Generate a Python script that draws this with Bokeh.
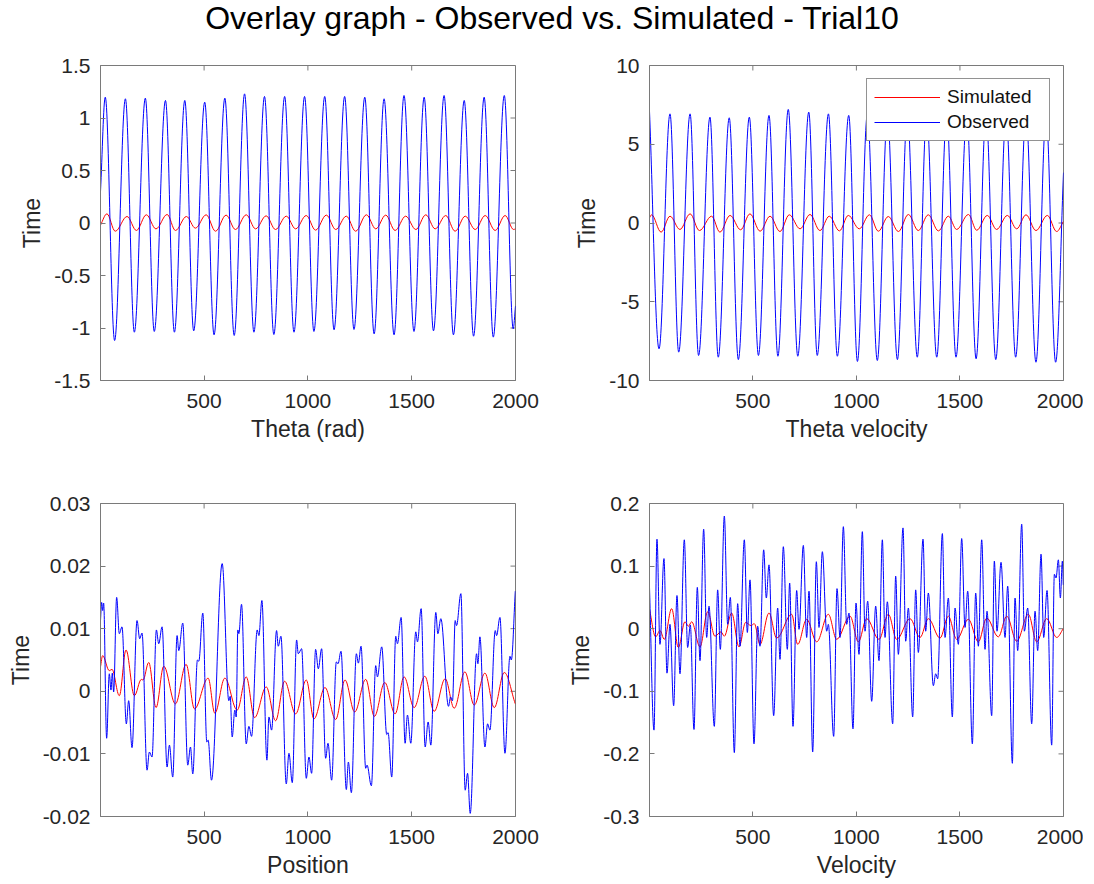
import numpy as np
from bokeh.plotting import figure
from bokeh.models import (Range1d, FixedTicker, CustomJSTickFormatter,
                          Legend, LegendItem, Div)
from bokeh.layouts import column, row
from bokeh.embed import file_html
from bokeh.resources import INLINE

TITLE = "Overlay graph - Observed vs. Simulated - Trial10"
Y_LABEL = "Time"
X_LABELS = ["Theta (rad)", "Theta velocity", "Position", "Velocity"]
LEGEND_LABELS = ["Simulated", "Observed"]

X_MIN, X_MAX = 1, 2000
x_ticks = [500, 1000, 1500, 2000]
tl_yticks = [-1.5, -1, -0.5, 0, 0.5, 1, 1.5]
tr_yticks = [-10, -5, 0, 5, 10]
bl_yticks = [-0.02, -0.01, 0, 0.01, 0.02, 0.03]
br_yticks = [-0.3, -0.2, -0.1, 0, 0.1, 0.2]

# ---- Theta (top-left): local extrema ----
tl_obs_x = [1, 24, 69, 121, 164, 217, 260, 314, 357, 407, 450, 503, 548, 600, 645, 695, 740,
            791, 836, 888, 933, 984, 1029, 1081, 1126, 1177, 1222, 1274, 1319, 1367, 1415,
            1463, 1511, 1560, 1605, 1656, 1701, 1753, 1798, 1849, 1893, 1946, 1989, 2000]
tl_obs_y = [0.30, 1.198, -1.119, 1.183, -1.040, 1.189, -1.033, 1.167, -1.040, 1.167, -1.027,
            1.151, -1.065, 1.189, -1.071, 1.230, -1.040, 1.205, -1.062, 1.205, -1.040, 1.205,
            -1.033, 1.205, -1.017, 1.205, -1.014, 1.198, -1.056, 1.183, -1.065, 1.214, -1.033,
            1.198, -1.027, 1.214, -1.065, 1.167, -1.078, 1.198, -1.087, 1.214, -1.008, -0.79]
tl_sim_x = [1, 32, 72, 129, 174, 222, 268, 322, 362, 415, 458, 510, 555, 606, 651, 703, 748,
            799, 844, 896, 941, 992, 1037, 1089, 1134, 1185, 1230, 1282, 1327, 1375, 1420,
            1471, 1520, 1568, 1613, 1664, 1709, 1758, 1806, 1854, 1902, 1950, 1991, 2000]
tl_sim_y = [-0.02, 0.087, -0.078, 0.062, -0.071, 0.078, -0.056, 0.081, -0.071, 0.062, -0.049,
            0.078, -0.078, 0.075, -0.062, 0.078, -0.056, 0.068, -0.062, 0.065, -0.056, 0.071,
            -0.068, 0.075, -0.062, 0.065, -0.078, 0.078, -0.056, 0.075, -0.071, 0.065, -0.062,
            0.078, -0.056, 0.071, -0.078, 0.065, -0.062, 0.071, -0.071, 0.071, -0.062, -0.055]

# ---- Theta velocity (top-right) ----
tr_obs_x = [1, 47, 100, 142, 197, 238, 293, 333, 386, 430, 483, 527, 578, 621, 671, 717, 770,
            811, 865, 908, 963, 1005, 1053, 1101, 1150, 1198, 1246, 1294, 1339, 1388, 1436,
            1481, 1533, 1578, 1626, 1673, 1723, 1769, 1819, 1867, 1916, 1962, 2000]
tr_obs_y = [7.1, -7.99, 6.93, -8.20, 6.93, -8.41, 6.72, -8.52, 6.68, -8.67, 6.72, -8.41, 6.83,
            -8.46, 7.21, -8.46, 7.04, -8.41, 6.93, -8.46, 6.83, -8.79, 6.9, -8.73, 6.8, -8.67,
            6.9, -8.52, 6.85, -8.52, 6.9, -8.52, 6.8, -8.62, 6.9, -8.67, 6.85, -8.52, 6.9,
            -8.84, 6.8, -8.84, 3.2]
tr_sim_x = [1, 11, 57, 100, 148, 197, 242, 301, 341, 390, 441, 486, 535, 583, 631, 676, 728,
            776, 824, 869, 918, 961, 1014, 1063, 1106, 1154, 1203, 1251, 1299, 1347, 1396,
            1444, 1484, 1541, 1581, 1632, 1677, 1729, 1774, 1819, 1867, 1922, 1967, 2000]
tr_sim_y = [0.33, 0.52, -0.58, 0.43, -0.41, 0.58, -0.48, 0.43, -0.58, 0.48, -0.43, 0.58, -0.52,
            0.43, -0.54, 0.52, -0.37, 0.54, -0.48, 0.43, -0.50, 0.48, -0.37, 0.52, -0.52, 0.41,
            -0.54, 0.54, -0.48, 0.52, -0.50, 0.43, -0.41, 0.54, -0.46, 0.48, -0.41, 0.48,
            -0.37, 0.52, -0.48, 0.48, -0.54, 0.10]

# ---- Position (bottom-left) ----
bl_obs_x = [1, 6.5, 11.3, 16.1, 30.6, 43.4, 51.5, 57.9, 64.4, 78.8, 91.7, 104.6, 125.5, 136.7,
            152.8, 177.0, 189.8, 201.1, 225.2, 236.4, 249.3, 270.2, 281.5, 297.6, 321.7, 332.9,
            349.0, 370.0, 378.0, 397.3, 421.4, 434.3, 445.5, 468.0, 474.5, 493.8, 513.1, 519.5,
            535.6, 587.1, 619.2, 625.7, 635.3, 648.2, 654.6, 662.6, 667.5, 680.3, 702.9, 715.7,
            728.6, 755.9, 764.0, 778.4, 802.6, 812.2, 825.1, 849.2, 857.2, 870.1, 895.8, 908.7,
            924.8, 945.7, 953.7, 969.8, 992.3, 1005.1, 1017.9, 1037.2, 1050.1, 1066.2, 1085.5,
            1096.8, 1114.4, 1137.0, 1145.0, 1159.5, 1185.2, 1194.9, 1209.3, 1233.5, 1243.1,
            1256.0, 1278.5, 1284.9, 1305.8, 1326.7, 1334.8, 1355.7, 1379.8, 1386.2, 1403.9,
            1423.2, 1431.3, 1449.0, 1468.3, 1479.5, 1495.6, 1519.7, 1527.8, 1545.5, 1564.8,
            1579.2, 1592.1, 1616.2, 1625.9, 1640.4, 1677.4, 1687.0, 1696.7, 1709.5, 1716.0,
            1736.9, 1757.8, 1769.0, 1781.9, 1812.5, 1818.9, 1828.5, 1852.7, 1865.5, 1876.8,
            1902.5, 1909.0, 1925.0, 1949.2, 1973.3, 1979.7, 1999]
bl_obs_y = [0.0113, 0.0142, 0.0129, 0.0141, -0.0075, 0.0028, 0.0002, 0.0029, -0.0001, 0.0150,
            0.0092, 0.0103, -0.0052, -0.0015, -0.0090, 0.0113, 0.0084, 0.0093, -0.0126, -0.0097,
            -0.0105, 0.0098, 0.0076, 0.0103, -0.0121, -0.0086, -0.0137, 0.0089, 0.0065, 0.0109,
            -0.0118, -0.0089, -0.0132, 0.0050, 0.0048, 0.0125, -0.0081, -0.0078, -0.0142, 0.0204,
            -0.0015, -0.0008, -0.0073, -0.0030, -0.0041, 0.0098, 0.0092, 0.0139, -0.0084, -0.0056,
            -0.0072, 0.0098, 0.0089, 0.0145, -0.0110, -0.0041, -0.0062, 0.0097, 0.0072, 0.0088,
            -0.0148, -0.0099, -0.0146, 0.0082, 0.0060, 0.0068, -0.0139, -0.0105, -0.0131, 0.0067,
            0.0036, 0.0068, -0.0107, -0.0083, -0.0142, 0.0047, 0.0044, 0.0064, -0.0157, -0.0113,
            -0.0162, 0.0060, 0.0045, 0.0072, -0.0123, -0.0118, -0.0151, 0.0041, 0.0023, 0.0071,
            -0.0069, -0.0066, -0.0137, 0.0088, 0.0076, 0.0118, -0.0083, -0.0038, -0.0083, 0.0095,
            0.0079, 0.0132, -0.0089, -0.0049, -0.0086, 0.0126, 0.0092, 0.0116, -0.0024, -0.0009,
            -0.0015, 0.0113, 0.0105, 0.0156, -0.0158, -0.0131, -0.0195, 0.0060, 0.0044, 0.0087,
            -0.0089, -0.0052, -0.0062, 0.0097, 0.0089, 0.0118, -0.0099, 0.0056, 0.0050, 0.0160]
bl_sim_x = [1, 11.3, 43.4, 56.3, 91.7, 123.9, 164.1, 197.8, 205.9, 233.2, 268.6, 305.6, 361.9,
            413.4, 453.6, 519.5, 551.7, 599.9, 659.4, 702.9, 743.1, 799.4, 844.4, 887.8, 940.9,
            992.3, 1029.2, 1082.3, 1133.7, 1178.8, 1225.4, 1278.5, 1320.3, 1370.2, 1420.0,
            1463.4, 1511.7, 1563.2, 1608.2, 1661.3, 1704.7, 1756.2, 1801.2, 1852.7, 1897.7,
            1945.9, 1999]
bl_sim_y = [0.0039, 0.0057, 0.0033, 0.0035, -0.0007, 0.0066, -0.0007, 0.0019, 0.0018, 0.0046,
            -0.0026, 0.0040, -0.0020, 0.0043, -0.0028, 0.0021, -0.0035, 0.0021, -0.0030, 0.0023,
            -0.0042, 0.0007, -0.0047, 0.0016, -0.0036, 0.0018, -0.0044, 0.0006, -0.0045, 0.0018,
            -0.0033, 0.0019, -0.0040, 0.0014, -0.0036, 0.0023, -0.0026, 0.0024, -0.0032, 0.0020,
            -0.0027, 0.0031, -0.0022, 0.0029, -0.0026, 0.0030, -0.0020]

# ---- Velocity (bottom-right) ----
br_obs_x = [1, 22.7, 37.1, 51.6, 70.9, 85.4, 99.9, 117.6, 133.7, 148.2, 169.1, 185.2, 198.1,
            215.8, 231.9, 244.8, 262.5, 277.0, 288.3, 314.0, 330.1, 343.0, 362.3, 378.4, 391.3,
            410.6, 426.7, 438.0, 458.9, 473.4, 486.3, 505.6, 523.3, 534.5, 552.3, 565.1, 578.0,
            600.5, 619.9, 631.1, 647.2, 666.5, 677.8, 693.9, 711.6, 722.9, 743.8, 759.9, 771.2,
            788.9, 806.6, 819.5, 835.6, 856.5, 864.5, 890.3, 906.4, 920.9, 937.0, 953.1, 964.3,
            983.6, 998.1, 1012.6, 1028.7, 1041.6, 1054.5, 1073.8, 1093.1, 1109.2, 1125.3, 1138.2,
            1149.4, 1175.2, 1189.7, 1202.6, 1225.1, 1238.0, 1250.9, 1271.8, 1286.3, 1299.1,
            1321.7, 1334.6, 1347.4, 1371.6, 1382.9, 1392.5, 1415.1, 1427.9, 1444.0, 1463.3,
            1476.2, 1492.3, 1508.4, 1524.5, 1537.4, 1559.9, 1576.0, 1588.9, 1605.0, 1621.1,
            1630.7, 1653.3, 1666.1, 1679.0, 1698.3, 1717.7, 1730.5, 1753.1, 1766.0, 1778.8,
            1798.2, 1811.0, 1827.1, 1846.4, 1862.5, 1875.4, 1891.5, 1904.4, 1920.5, 1943.0,
            1955.9, 1963.9, 1975.2, 1984.9, 1994.5, 1999]
br_obs_y = [0.066, -0.162, 0.143, -0.025, 0.112, -0.071, 0.007, -0.123, 0.053, -0.072, 0.142,
            -0.030, 0.006, -0.161, 0.066, -0.051, 0.159, -0.014, 0.036, -0.156, 0.062, -0.033,
            0.180, 0.007, 0.050, -0.198, 0.040, -0.028, 0.142, -0.006, 0.078, -0.184, 0.004,
            -0.028, 0.126, 0.049, 0.102, -0.139, 0.033, -0.049, 0.131, -0.033, 0.073, -0.156,
            0.061, -0.001, 0.133, -0.014, 0.060, -0.197, 0.107, 0.002, 0.123, -0.004, 0.007,
            -0.172, 0.064, -0.014, 0.163, 0.007, 0.025, -0.160, 0.041, -0.041, 0.155, -0.004,
            0.044, -0.116, 0.036, -0.051, 0.142, -0.014, 0.043, -0.152, 0.084, -0.041, 0.161,
            -0.020, 0.033, -0.141, 0.062, -0.038, 0.143, -0.004, 0.057, -0.091, -0.072, -0.080,
            0.152, -0.014, 0.049, -0.141, 0.033, -0.025, 0.144, 0.002, 0.060, -0.184, 0.057,
            -0.028, 0.142, -0.033, 0.028, -0.139, 0.108, -0.004, 0.106, -0.014, 0.068, -0.215,
            0.049, -0.035, 0.167, -0.004, 0.033, -0.152, 0.028, -0.035, 0.119, -0.014, 0.061,
            -0.186, 0.087, 0.081, 0.110, 0.049, 0.108, 0.070]
br_sim_x = [1, 30.7, 51.6, 72.6, 108.0, 140.2, 172.4, 188.5, 204.6, 244.8, 281.8, 317.2, 346.2,
            362.3, 397.7, 433.1, 465.3, 491.1, 507.2, 534.5, 578.0, 615.0, 687.5, 716.5, 759.9,
            808.2, 864.5, 904.8, 969.2, 1009.4, 1049.6, 1109.2, 1154.3, 1194.5, 1258.9, 1307.2,
            1347.4, 1403.8, 1444.0, 1484.2, 1540.6, 1588.9, 1629.1, 1685.5, 1725.7, 1774.0,
            1830.3, 1870.6, 1918.9, 1967.2, 1999]
br_sim_y = [0.031, -0.013, -0.003, -0.017, 0.032, -0.030, 0.011, 0.004, 0.011, -0.029, 0.027,
            -0.012, -0.005, -0.012, 0.025, -0.029, 0.010, 0.005, 0.008, -0.025, 0.025, -0.015,
            0.023, -0.025, 0.015, -0.021, 0.023, -0.017, 0.020, -0.021, 0.016, -0.017, 0.023,
            -0.017, 0.016, -0.014, 0.016, -0.015, 0.020, -0.017, 0.015, -0.021, 0.017, -0.013,
            0.020, -0.020, 0.023, -0.021, 0.016, -0.014, 0.000]

FONT = "Liberation Sans"
AX = "#7a7a7a"
TXT = "#262626"
BLUE = "#0000ff"
RED = "#ff0000"


def draw_curve(p, xs, ys, color, lw=1.0):
    """Smooth curve through the read extrema: cubic Beziers with flat tangents at extrema."""
    x = np.asarray(xs, float)
    y = np.asarray(ys, float)
    dx = np.diff(x)
    dy = np.diff(y)
    k = 0.36
    x0, y0, x1, y1 = x[:-1], y[:-1], x[1:], y[1:]
    cx0 = x0 + k * dx
    cx1 = x1 - k * dx
    cy0 = y0.copy()
    cy1 = y1.copy()
    cy0[0] = y0[0] + k * dy[0]
    cy1[-1] = y1[-1] - k * dy[-1]
    return p.bezier(x0=x0, y0=y0, x1=x1, y1=y1, cx0=cx0, cy0=cy0, cx1=cx1, cy1=cy1,
                    line_color=color, line_width=lw)


def style_axis(ax, yaxis=False):
    ax.axis_line_color = AX
    ax.major_tick_line_color = AX
    ax.minor_tick_line_color = None
    ax.major_tick_in = 5
    ax.major_tick_out = 0
    ax.major_label_text_font = FONT
    ax.major_label_text_font_size = "21px"
    ax.major_label_text_color = TXT
    ax.major_label_standoff = 10 if yaxis else 13
    ax.axis_label_text_font = FONT
    ax.axis_label_text_font_size = "23px"
    ax.axis_label_text_font_style = "normal"
    ax.axis_label_text_color = TXT
    ax.axis_label_standoff = 6 if yaxis else 5


def make_panel(xlabel, yticks, frame_h, bl, br, bt, bb, frame_w):
    p = figure(frame_width=frame_w, frame_height=frame_h,
               min_border_left=bl, min_border_right=br, min_border_top=bt, min_border_bottom=bb,
               x_range=Range1d(X_MIN, X_MAX), y_range=Range1d(yticks[0], yticks[-1]),
               output_backend="svg", toolbar_location=None,
               x_axis_label=xlabel, y_axis_label=Y_LABEL)
    p.xgrid.visible = False
    p.ygrid.visible = False
    p.outline_line_color = AX
    p.outline_line_width = 1
    p.background_fill_color = "white"
    p.border_fill_color = "white"
    p.xaxis.ticker = FixedTicker(ticks=x_ticks)
    p.yaxis.ticker = FixedTicker(ticks=yticks)
    p.yaxis.formatter = CustomJSTickFormatter(code="return String(Number(tick.toFixed(6)));")
    style_axis(p.xaxis[0])
    style_axis(p.yaxis[0], yaxis=True)
    # inward ticks on the right and top edges of the box (MATLAB "box on")
    p.ray(x=[X_MAX] * len(yticks), y=yticks, length=5, length_units="screen",
          angle=np.pi, line_color=AX, line_width=1)
    p.ray(x=x_ticks, y=[yticks[-1]] * len(x_ticks), length=5, length_units="screen",
          angle=-np.pi / 2, line_color=AX, line_width=1)
    return p


p1 = make_panel(X_LABELS[0], tl_yticks, 315, 100, 40, 19, 92, 415)
p2 = make_panel(X_LABELS[1], tr_yticks, 315, 94, 20, 19, 92, 414)
p3 = make_panel(X_LABELS[2], bl_yticks, 313, 100, 40, 31, 60, 415)
p4 = make_panel(X_LABELS[3], br_yticks, 313, 94, 20, 31, 60, 414)

series = [(p1, tl_obs_x, tl_obs_y, tl_sim_x, tl_sim_y),
          (p2, tr_obs_x, tr_obs_y, tr_sim_x, tr_sim_y),
          (p3, bl_obs_x, bl_obs_y, bl_sim_x, bl_sim_y),
          (p4, br_obs_x, br_obs_y, br_sim_x, br_sim_y)]
for p, ox, oy, sx, sy in series:
    draw_curve(p, sx, sy, RED)
    draw_curve(p, ox, oy, BLUE)

# legend (top-right panel): single-point line renderers provide the legend swatches
leg_sim = p2.line(x=tr_sim_x[:1], y=tr_sim_y[:1], line_color=RED, line_width=1.2)
leg_obs = p2.line(x=tr_obs_x[:1], y=tr_obs_y[:1], line_color=BLUE, line_width=1.2)
legend = Legend(items=[LegendItem(label=LEGEND_LABELS[0], renderers=[leg_sim]),
                       LegendItem(label=LEGEND_LABELS[1], renderers=[leg_obs])],
                location="top_right", margin=13, padding=7, spacing=3,
                glyph_width=66, glyph_height=22, label_standoff=7, label_width=95,
                label_text_font=FONT, label_text_font_size="19px", label_text_color="#111111",
                border_line_color="#262626", border_line_width=1,
                background_fill_color="white", background_fill_alpha=1.0)
p2.add_layout(legend)

title = Div(text=('<div style="box-sizing:border-box;width:1083px;padding-left:11px;'
                  'text-align:center;font-family:\'Liberation Sans\';'
                  'font-size:32px;line-height:22px;padding-top:2px;color:#000;">'
                  + TITLE + '</div>'),
            width=1083, height=36)

layout = column(title, row(p1, p2), row(p3, p4))
open("out.html", "w").write(file_html(layout, INLINE))
